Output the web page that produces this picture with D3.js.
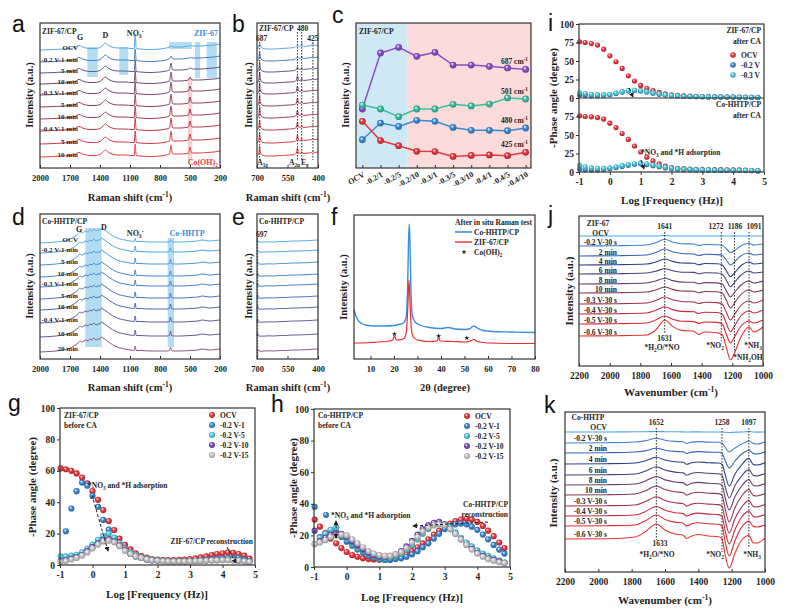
<!DOCTYPE html>
<html>
<head>
<meta charset="utf-8">
<script src="https://cdn.jsdelivr.net/npm/d3@7"></script>
<style>
  body { margin: 0; background: #fff; }
</style>
</head>
<body>
<script>
// ---------- panel a : ZIF-67/CP in situ Raman ----------
var aLabels = ["OCV", "-0.2 V-1 min", "5 min", "10 min", "-0.3 V-1 min", "5 min", "10 min", "-0.4 V-1 min", "5 min", "10 min"];
var aOffsets = [118, 106, 95, 84, 73, 61, 49, 37, 24, 11];
var xsA = [2000, 1900, 1800, 1700, 1650, 1610, 1595, 1570, 1500, 1450, 1400, 1370, 1345, 1320, 1280, 1220, 1150, 1080, 1058, 1048, 1038, 1000, 900, 800, 740, 705, 690, 676, 660, 600, 540, 515, 500, 486, 470, 430, 400, 330, 260, 200];
var baseA = [0, 0.3, 0.8, 1.5, 2.5, 4.5, 4.2, 2.8, 1.5, 1.5, 2.5, 5, 7, 5, 3, 2, 2, 1.5, 1.5, 0, 1.5, 1, 0.5, 1, 2, 3, 0, 3.5, 3, 3, 3.5, 4, 0, 4.5, 4, 4, 4, 4.5, 5, 6];
var aNO3 = [16, 13, 13, 13, 13, 13, 13, 13, 13, 13];
var aP690 = [4, 6, 10, 12, 13, 13, 13, 13, 13, 12];
var aP500 = [4, 4, 5, 7, 9, 10, 10, 10, 10, 10];
var aBlueSpans = [[1527, 1423, 91, 121], [1207, 1117, 93, 121], [710, 483, 119, 126], [450, 400, 90, 126], [333, 233, 90, 126]];
var aPinkSpans = [[523, 477, 8, 90]];
var ramanTicks = [2000, 1700, 1400, 1100, 800, 500, 200];

// ---------- panel b : ZIF-67/CP 700-400 ----------
var xsB = [700, 695, 690, 687, 684, 675, 650, 620, 580, 540, 515, 506, 501, 496, 488, 483, 480, 477, 470, 450, 432, 425, 418, 400];
var baseB = [1, 2, 5, 0, 5, 2, 1, 1, 1.5, 2, 2.5, 4, 0, 4, 3.5, 4, 0, 4, 3.5, 4, 4.5, 0, 4.5, 5];
var bP687 = [6, 10, 11, 12, 12, 12, 12, 11, 11, 11];
var bP501 = [4, 5, 6, 8, 9, 9, 9, 9, 9, 9];
var bP480 = [7, 6, 5.5, 5.5, 5.5, 5.5, 5.5, 5.5, 5.5, 5.5];
var bP425 = [7, 6, 5.5, 5.5, 5.5, 5.5, 5.5, 5.5, 5.5, 5.5];
var shortTicks = [700, 550, 400];

// ---------- panel c : peak intensities ----------
var cCats = ["OCV", "-0.2/1", "-0.2/5", "-0.2/10", "-0.3/1", "-0.3/5", "-0.3/10", "-0.4/1", "-0.4/5", "-0.4/10"];
var c687 = [40.7, 79.3, 83.2, 77.0, 79.8, 71.0, 71.0, 70.1, 69.0, 68.0];
var c501 = [43.4, 40.7, 35.4, 40.7, 40.7, 43.9, 42.8, 44.1, 48.3, 47.6];
var c480 = [19.5, 31.0, 28.7, 32.9, 32.2, 28.0, 26.0, 26.0, 25.7, 27.6];
var c425 = [32.2, 18.9, 15.4, 11.5, 11.3, 8.0, 8.7, 9.0, 8.5, 10.8];
var cNames = ["687", "501", "480", "425"];

// ---------- panel d : Co-HHTP/CP in situ Raman ----------
var dLabels = ["OCV", "-0.2 V-1 min", "5 min", "10 min", "-0.3 V-1 min", "5 min", "10 min", "-0.4 V-1 min", "10 min", "20 min"];
var dOffsets = [116, 106, 94, 82, 72, 60, 49, 36, 22, 7];
var xsD = [2000, 1900, 1800, 1720, 1660, 1620, 1600, 1585, 1560, 1540, 1520, 1500, 1480, 1460, 1440, 1420, 1400, 1385, 1370, 1340, 1300, 1250, 1200, 1150, 1100, 1058, 1048, 1038, 1000, 900, 800, 730, 705, 695, 685, 660, 600, 500, 420, 380, 340, 300, 250, 200];
var baseD = [0, 0.5, 1.5, 3, 6, 9, 11, 10, 11, 12, 11, 13, 12, 14, 12, 13, 13, 15, 14, 12, 9, 6, 4, 3, 2, 1.5, 0, 1.5, 1.5, 1, 1, 1, 1.5, 0, 1.5, 1, 1, 1.5, 2, 3, 2.5, 2, 2.5, 3];
var dNO3 = [5, 7, 7, 7, 7, 7, 7, 7, 7, 6];
var dP697 = [3, 5, 6, 6, 6, 6, 6, 6, 6, 5];
var dBlueSpans = [[1547, 1383, 12, 131], [723, 660, 12, 121]];

// ---------- panel e : Co-HHTP/CP 700-400 ----------
var xsE = [700, 697, 694, 690, 680, 660, 640, 620, 600, 580, 560, 540, 520, 500, 480, 460, 440, 420, 400];
var baseE = [1, 0, 1.5, 1, 0.8, 1, 1.2, 1, 1.3, 1.5, 1.5, 1.8, 2, 2, 2.2, 2.3, 2.5, 2.8, 3];
var eP697 = [3, 3, 3.5, 4, 4, 4.5, 4.5, 4, 4, 3];

// ---------- panel f : XRD ----------
var fHHTP = [[3, 48], [4, 41], [5, 37], [6, 35], [8, 33], [12, 32], [16, 32], [20, 32.5], [22, 33.5], [24, 35], [25.2, 41], [25.8, 71], [26.2, 116], [26.5, 134], [26.8, 116], [27.2, 71], [27.8, 43], [29, 36], [31, 33], [35, 30.5], [40, 29.5], [43, 30.5], [46, 29], [50, 28.5], [52, 29], [54, 32], [55.5, 30], [58, 27.5], [62, 26.5], [70, 26], [80, 25.5]];
var fZIF = [[3, 15], [10, 15.5], [18, 17], [19.5, 18], [20.2, 22], [21, 18], [23, 18.5], [24.5, 20], [25.3, 27], [25.9, 51], [26.4, 78], [26.9, 51], [27.4, 29], [28.2, 21], [30, 18], [35, 16.5], [38.3, 17], [39, 20], [39.7, 17], [45, 16.5], [50, 16], [52, 16.5], [54, 18.5], [55.5, 16.5], [60, 15], [70, 14.5], [80, 14.5]];
var fStars = [[20.2, 24], [39, 22], [51, 20]];
var fTicks = [10, 20, 30, 40, 50, 60, 70, 80];

// ---------- panels g, h : Bode phase before CA ----------
var bodeNames = ["OCV", "-0.2 V-1", "-0.2 V-5", "-0.2 V-10", "-0.2 V-15"];
var logFgh = [-0.98, -0.82, -0.65, -0.49, -0.32, -0.16, 0, 0.17, 0.33, 0.5, 0.67, 0.83, 1, 1.17, 1.33, 1.5, 1.67, 1.83, 2, 2.17, 2.33, 2.5, 2.67, 2.83, 3, 3.17, 3.33, 3.5, 3.67, 3.83, 4, 4.17, 4.33, 4.5, 4.67, 4.83];
var gOCV = [61.5, 61, 60, 58.3, 55.7, 52, 47, 41.5, 35, 28, 22.3, 16.8, 12.8, 10, 7.4, 5.7, 4.7, 3.8, 3.5, 3.3, 3.2, 3.2, 3.3, 3.5, 3.8, 4.2, 4.8, 5.5, 6.3, 7, 7.5, 8, 7.8, 7, 6, 4];
var gV1 = [null, 21.5, 36, 47, 52.5, 50.5, 44, 37, 28.7, 22.5, 17, 13, 9.5, 7, 5.5, 4.5, 3.5, 3, 2.8, 2.6, 2.5, 2.4, 2.4, 2.5, 2.5, 2.7, 3, 3.3, 3.6, 4, 4.2, 4.5, 4.6, 4.5, 3.5, 2.5];
var gV5 = [5.5, 5.5, 6, 6.5, 8, 10.5, 13, 16, 18.5, 20, 17.5, 14, 10.5, 8, 6.5, 5, 4, 3.5, 3, 2.8, 2.6, 2.5, 2.5, 2.5, 2.6, 2.7, 2.9, 3.1, 3.3, 3.4, 3.5, 3.5, 3.4, 3.1, 2.6, 2];
var gV10 = [2.5, 3, 4, 5, 6.5, 9, 11.5, 14, 16, 16.5, 15, 12.5, 9.5, 7, 5.5, 4.5, 3.5, 3, 2.7, 2.5, 2.4, 2.3, 2.3, 2.3, 2.4, 2.5, 2.6, 2.8, 3, 3.1, 3.2, 3.2, 3.1, 2.8, 2.4, 2];
var gV15 = [2, 2.5, 3.5, 4.5, 6, 8, 10.5, 13, 15, 15.5, 14.5, 12, 9, 7, 5.5, 4.5, 3.6, 3, 2.7, 2.5, 2.4, 2.3, 2.3, 2.3, 2.4, 2.5, 2.6, 2.7, 2.9, 3, 3.1, 3.1, 3, 2.8, 2.4, 2];
var hOCV = [30, 25.5, 21.5, 18, 15, 12, 9.5, 7.5, 6.5, 5.5, 5, 4.8, 4.6, 4.6, 5, 5.5, 6.5, 8, 10, 12.5, 15, 17.5, 20.5, 23, 25.5, 27.5, 29, 30, 30.5, 30, 28.5, 26, 23, 19.5, 15.5, 12];
var hV1 = [38, 19, 21, 23, 22, 19, 16, 13.5, 11, 9, 7, 6, 5, 4.5, 4.5, 5, 5.5, 6.5, 8, 10, 12.5, 15, 18, 21, 24, 26, 27, 27.5, 27, 25.5, 23.5, 20.5, 17.5, 14, 11, 8.5];
var hV5 = [14.5, 18.5, 21, 23.5, 25, 20, 17.5, 14.5, 12, 10, 8, 6.5, 5.5, 5.5, 6, 7, 8.5, 11, 14, 17.5, 21, 24, 26.5, 27.5, 27, 25, 22, 18.5, 15.5, 13, 10.5, 8.5, 7, 5.5, 4, 3];
var hV10 = [23, 16.5, 18.5, 20.5, 21.5, 21, 19, 16, 13.5, 11, 9, 7.5, 6.5, 6.5, 7, 8, 10, 13, 16.5, 20.5, 24, 26.5, 28, 28.5, 27, 24, 21, 17.5, 14, 11.5, 9, 7, 5.5, 4.5, 3.5, 2.5];
var hV15 = [14.5, 15.5, 17, 19, 20, 20.5, 20, 17.5, 15, 12.5, 10, 8.5, 7.5, 7, 7, 8, 9.5, 12, 15.5, 19, 22.5, 25, 26.5, 27, 26.5, 24, 21, 17.5, 14, 11, 8.5, 6.5, 5, 4, 3, 2.5];
var logTicks = [-1, 0, 1, 2, 3, 4, 5];

// ---------- panel i : Bode phase after CA ----------
var iNames = ["OCV", "-0.2 V", "-0.3 V"];
var logFi = [-0.98, -0.8, -0.6, -0.4, -0.2, 0, 0.2, 0.4, 0.6, 0.8, 1, 1.2, 1.4, 1.6, 1.8, 2, 2.2, 2.4, 2.6, 2.8, 3, 3.2, 3.4, 3.6, 3.8, 4, 4.2, 4.4, 4.6, 4.8];
var iUpOCV = [76, 75, 73.5, 71.5, 66, 57, 49, 40, 30, 23, 17, 13, 10, 7.5, 5.5, 4.3, 3.5, 3, 2.5, 2.2, 2, 1.8, 1.6, 1.4, 1.3, 1.2, 1.1, 1, 0.9, 0.8];
var iUpV2 = [4, 3.5, 3, 3, 3.5, 4.5, 6, 8, 9.5, 10, 9.5, 8, 6.5, 5, 4, 3.2, 2.7, 2.3, 2, 1.8, 1.6, 1.5, 1.4, 1.3, 1.2, 1.1, 1, 0.9, 0.8, 0.7];
var iUpV3 = [7, 6, 5, 4.5, 4.5, 5, 6.5, 8.5, 10, 10.5, 10, 8.5, 7, 5.5, 4.5, 3.5, 3, 2.5, 2.2, 2, 1.8, 1.7, 1.6, 1.5, 1.4, 1.3, 1.2, 1.1, 1, 0.9];
var iLoOCV = [76, 75, 74.5, 73.5, 71.5, 66, 60, 52, 44, 35, 27, 20, 15, 11, 8, 6, 5, 4.5, 4, 3.7, 3.5, 3.3, 3.2, 3.1, 3, 3, 2.8, 2.5, 2, 1.5];
var iLoV2 = [4, 3, 3, 3, 3.5, 4.5, 6, 7.5, 9, 10.5, 11, 10, 8.5, 7, 5.5, 4.5, 3.8, 3.3, 3, 2.8, 2.6, 2.5, 2.4, 2.3, 2.2, 2.1, 2, 1.9, 1.7, 1.5];
var iLoV3 = [9, 7, 5.5, 5, 5, 5.5, 7, 8.5, 10, 11.5, 12, 11, 9.5, 8, 6.5, 5.5, 4.5, 4, 3.5, 3.2, 3, 2.9, 2.8, 2.7, 2.6, 2.5, 2.4, 2.2, 2, 1.8];

// ---------- panels j, k : in situ ATR-IR ----------
var irLabels = ["OCV", "-0.2 V-30 s", "2 min", "4 min", "6 min", "8 min", "10 min", "-0.3 V-30 s", "-0.4 V-30 s", "-0.5 V-30 s", "-0.6 V-30 s"];
var xsJ = [2200, 1950, 1760, 1700, 1641, 1590, 1530, 1450, 1420, 1380, 1300, 1265, 1240, 1212, 1186, 1150, 1091, 1060, 1000];
var jRows = [
  [130, 130, 130, 130, 130.5, 130, 130, 130, 130, 130, 130, 130, 130, 130, 130, 130, 130, 130, 130],
  [120, 120.3, 121, 123.3, 126.7, 124, 122.3, 122, 120.5, 121.5, 121.2, 120.5, 117.5, 113.3, 115.5, 119.5, 122.7, 121, 122],
  [110, 110.3, 111, 113.5, 117, 114.2, 112.5, 112, 110.5, 111.7, 111.4, 110.5, 106, 101, 104, 109.5, 113, 111, 112],
  [101, 101.3, 102, 104, 107, 104.6, 103, 102.8, 101.3, 102.5, 102.2, 101, 95.5, 89.3, 93, 99.5, 104, 102, 103],
  [92, 92.3, 93, 94.7, 97.3, 95.2, 93.8, 93.6, 92.2, 93.3, 93, 91.8, 86, 79.3, 83.5, 90, 95, 93, 94],
  [82, 82.3, 83, 85, 87.7, 85.4, 83.9, 83.7, 82.2, 83.4, 83.1, 81.8, 75.5, 69, 73.5, 80, 85, 83, 85],
  [73, 73.3, 74, 76, 79, 76.6, 75, 74.8, 73.3, 74.5, 74.2, 72.8, 66, 58, 63, 70.5, 76, 74, 76],
  [62, 62.3, 63, 65.5, 69, 66.2, 64.5, 64, 62.5, 63.7, 63.4, 61.8, 54, 46, 51.5, 59.5, 65, 63, 66],
  [52, 52.3, 53, 55.6, 59.3, 56.4, 54.6, 54.2, 52.5, 53.8, 53.5, 51.8, 43, 34.3, 40, 49, 55, 53, 56],
  [42, 42.3, 43, 46, 50, 46.8, 44.8, 44.4, 42.6, 44, 43.6, 41.8, 32, 23, 29, 38.5, 45, 43, 46],
  [30, 30.3, 31, 36, 46, 39.6, 35.6, 34.8, 31.5, 34, 33.2, 31, 19, 6, 13, 27, 39, 34, 39]
];
var xsK = [2200, 1950, 1780, 1720, 1652, 1600, 1540, 1490, 1470, 1440, 1400, 1340, 1280, 1258, 1240, 1215, 1180, 1140, 1110, 1097, 1070, 1050, 1000];
var kRows = [
  [142, 142, 142.2, 142.3, 142.5, 142.3, 142.2, 142.1, 142, 142.1, 142.1, 142, 142, 142, 141.8, 141.5, 141.8, 142, 142.2, 142.5, 142, 141.9, 142],
  [131, 131.3, 132, 133.1, 135.7, 133.8, 132.6, 132.2, 130.5, 131.9, 132.4, 131.9, 131.7, 130.7, 127, 122, 126, 130, 132.3, 133.3, 130.5, 130, 132],
  [121, 121.3, 122, 123.1, 125.7, 123.8, 122.6, 122.2, 120.5, 121.9, 122.4, 121.9, 121.7, 120.7, 114, 106, 113, 120, 123, 124, 120.5, 120, 122.3],
  [110, 110.3, 111, 113, 116.7, 114, 112.3, 111.7, 109.7, 111.3, 112, 111.3, 111, 109.8, 100, 88, 100, 109, 114.7, 115.7, 109.5, 109, 111.3],
  [99, 99.3, 100, 102.7, 107.3, 104, 101.9, 101.1, 98.8, 100.7, 101.5, 100.7, 100.2, 98.9, 88, 76, 88.5, 98, 103.5, 104.5, 98.5, 98, 100.5],
  [89, 89.3, 90, 92.8, 97.5, 94.1, 92, 91.1, 88.9, 90.7, 91.6, 90.7, 90.3, 88.9, 77, 64, 77.5, 88, 93.5, 94.5, 88.5, 88, 90.5],
  [79, 79.3, 80, 83, 88, 84.4, 82.2, 81.3, 78.9, 80.8, 81.7, 80.8, 80.4, 78.9, 66, 52, 66.5, 78, 83.5, 84.5, 78.5, 78, 80.5],
  [68, 68.3, 69, 72.2, 77.3, 73.6, 71.3, 70.3, 67.9, 69.9, 70.8, 69.9, 69.4, 67.9, 55, 41, 55.5, 67, 72.5, 73.5, 67.5, 67, 69.5],
  [58, 58.3, 59, 62.3, 67.5, 63.7, 61.3, 60.4, 57.9, 59.9, 60.9, 59.9, 59.4, 57.9, 44, 30, 44.5, 57, 62, 63, 57.5, 57, 59.5],
  [48, 48.3, 49, 53, 59, 54.6, 51.9, 50.8, 48.1, 50.2, 51.3, 50.2, 49.7, 48, 33, 18, 33.5, 47, 52, 53, 47.5, 47, 49],
  [35, 35.3, 37, 42, 50, 44, 40, 38.8, 35.5, 38, 39.5, 38, 37.3, 35.3, 20, 6, 21, 34, 38, 39, 31, 31, 36]
];
var irTicks = [2200, 2000, 1800, 1600, 1400, 1200, 1000];

// ---------- drawing ----------
var SERIF = "'Liberation Serif','Times New Roman',serif";
var INK = "#1e1e1e";
var svg = d3.select("body").append("svg")
    .attr("width", 799).attr("height", 614)
    .style("display", "block");
var defs = svg.append("defs");

defs.append("marker").attr("id", "arr")
    .attr("viewBox", "0 0 6 6").attr("refX", 5).attr("refY", 3)
    .attr("markerWidth", 5).attr("markerHeight", 5)
    .attr("markerUnits", "userSpaceOnUse").attr("orient", "auto")
    .append("path").attr("d", "M0,0L6,3L0,6Z").attr("fill", INK);

var aColors = ["#5aa8e4", "#4a7cc4", "#5d5a86", "#6e4a72", "#7f456a", "#91415f", "#a63d55", "#bd3a4c", "#d33a44", "#e8403f"];
var dColors = ["#58b0ea", "#4ea3e2", "#4896da", "#448ad2", "#4880ca", "#4c74be", "#5068b2", "#5a5ea2", "#6a5a92", "#8a5c80"];
var irColors = ["#4aa6ea", "#3f82d2", "#3a64b8", "#2f3f8c", "#4a3f7c", "#6a3d6c", "#8a385c", "#a8324c", "#c42c3e", "#dc2a34", "#f0302e"];
var cColors = ["#8a4ec8", "#3cbf9f", "#3a8ad6", "#e8363c"];
var bodeColors = ["#e8363c", "#3a86d0", "#4cc9dc", "#7a4cc0", "#c8c8c8"];

// text with sub / superscript pieces
function rich(x, y, segs, o) {
    o = o || {};
    var fs = o.size || 7.5;
    var t = svg.append("text").attr("x", x).attr("y", y)
        .attr("font-family", SERIF).attr("font-weight", "bold")
        .attr("font-size", fs).attr("fill", o.fill || INK)
        .attr("text-anchor", o.anchor || "start");
    if (o.rotate) t.attr("transform", "rotate(" + o.rotate + "," + x + "," + y + ")");
    var shift = 0;
    segs.forEach(function (s) {
        var str = typeof s === "string" ? s : s[0];
        var kind = typeof s === "string" ? "" : s[1];
        var target = kind === "sub" ? fs * 0.3 : kind === "sup" ? -fs * 0.4 : 0;
        t.append("tspan").attr("dy", target - shift)
            .attr("font-size", kind ? fs * 0.7 : fs).text(str);
        shift = target;
    });
    return t;
}

function letter(x, y, s) {
    svg.append("text").attr("x", x).attr("y", y).text(s)
        .attr("font-family", "'Liberation Sans',Arial,sans-serif")
        .attr("font-size", 23).attr("fill", "#111");
}

function frame(x0, x1, y0, y1) {
    svg.append("rect").attr("x", x0).attr("y", y0)
        .attr("width", x1 - x0).attr("height", y1 - y0)
        .attr("fill", "none").attr("stroke", "#333").attr("stroke-width", 1.2);
}

function xAxis(scale, y, ticks, inward, fs) {
    var g = svg.append("g").attr("transform", "translate(0," + y + ")")
        .call(d3.axisBottom(scale).tickValues(ticks)
            .tickSize(inward ? -3 : 3).tickPadding(inward ? 6.5 : 3.5)
            .tickFormat(function (d) { return String(d); }));
    g.select(".domain").remove();
    g.selectAll("line").attr("stroke", "#333");
    g.selectAll("text").attr("font-family", SERIF).attr("font-weight", "bold")
        .attr("font-size", fs || 8.5).attr("fill", INK);
}

function yAxis(scale, x, ticks) {
    var g = svg.append("g").attr("transform", "translate(" + x + ",0)")
        .call(d3.axisLeft(scale).tickValues(ticks).tickSize(3).tickPadding(2)
            .tickFormat(function (d) { return String(d); }));
    g.select(".domain").remove();
    g.selectAll("line").attr("stroke", "#333");
    g.selectAll("text").attr("font-family", SERIF).attr("font-weight", "bold")
        .attr("font-size", 9.5).attr("fill", INK);
}

function spectrum(pts, xs, ys, color, w) {
    svg.append("path").datum(pts)
        .attr("fill", "none").attr("stroke", color).attr("stroke-width", w || 1)
        .attr("stroke-linejoin", "round")
        .attr("d", d3.line().x(function (d) { return xs(d[0]); })
            .y(function (d) { return ys(d[1]); }).curve(d3.curveMonotoneX));
}

function grad(color) {
    var id = "ball" + color.slice(1);
    if (defs.select("#" + id).empty()) {
        var gr = defs.append("radialGradient").attr("id", id)
            .attr("cx", "50%").attr("cy", "50%").attr("r", "55%")
            .attr("fx", "35%").attr("fy", "30%");
        gr.append("stop").attr("offset", "0%").attr("stop-color", "#ffffff");
        gr.append("stop").attr("offset", "45%").attr("stop-color", color);
        gr.append("stop").attr("offset", "100%").attr("stop-color", d3.color(color).darker(0.9).formatHex());
    }
    return "url(#" + id + ")";
}

function balls(xv, yv, xs, ys, color, r) {
    var data = xv.map(function (x, i) { return [x, yv[i]]; })
        .filter(function (d) { return d[1] != null; });
    svg.append("g").selectAll("circle").data(data).join("circle")
        .attr("cx", function (d) { return xs(d[0]); })
        .attr("cy", function (d) { return ys(d[1]); })
        .attr("r", r).attr("fill", grad(color));
}

function ball(x, y, color, r) {
    svg.append("circle").attr("cx", x).attr("cy", y).attr("r", r).attr("fill", grad(color));
}

function vdot(x, y0, y1) {
    svg.append("line").attr("x1", x).attr("x2", x).attr("y1", y0).attr("y2", y1)
        .attr("stroke", INK).attr("stroke-width", 0.9).attr("stroke-dasharray", "1.6,1.4");
}

function arrow(x1, y1, x2, y2, dashed) {
    svg.append("line").attr("x1", x1).attr("y1", y1).attr("x2", x2).attr("y2", y2)
        .attr("stroke", INK).attr("stroke-width", 1)
        .attr("stroke-dasharray", dashed ? "3,2" : null)
        .attr("marker-end", "url(#arr)");
}

function spans(list, xs, ys, fill, op) {
    list.forEach(function (s) {
        svg.append("rect")
            .attr("x", Math.min(xs(s[0]), xs(s[1]))).attr("width", Math.abs(xs(s[1]) - xs(s[0])))
            .attr("y", ys(s[3])).attr("height", ys(s[2]) - ys(s[3]))
            .attr("fill", fill).attr("opacity", op);
    });
}

// build a stacked trace: base shape with the named peak knots replaced
function trace(xsList, base, off, peaks) {
    return xsList.map(function (x, j) {
        var v = peaks.hasOwnProperty(x) ? peaks[x] : base[j];
        return [x, off + v];
    });
}

function starMark(x, y) {
    svg.append("path").attr("transform", "translate(" + x + "," + y + ")")
        .attr("d", d3.symbol(d3.symbolStar, 9)).attr("fill", INK);
}

var ramanTitle = ["Raman shift (cm", ["-1", "sup"], ")"];

// ===== a =====
var xa = d3.scaleLinear().domain([2000, 200]).range([40, 220]);
var ya = d3.scaleLinear().domain([0, 145]).range([168, 23]);
spans(aBlueSpans, xa, ya, "#9fd3ef", 0.8);
spans(aPinkSpans, xa, ya, "#f4b3b6", 0.6);
aOffsets.forEach(function (off, i) {
    var pk = {}; pk[1048] = aNO3[i]; pk[690] = aP690[i]; pk[500] = aP500[i];
    spectrum(trace(xsA, baseA, off, pk), xa, ya, aColors[i]);
});
aOffsets.forEach(function (off, i) {
    rich(78, ya(off), [aLabels[i]], { anchor: "end", size: 7 });
});
rich(42, 34, ["ZIF-67/CP"]);
rich(xa(1600), 40, ["G"], { anchor: "middle", size: 8 });
rich(xa(1345), 38, ["D"], { anchor: "middle", size: 8 });
rich(xa(1048), 36, ["NO", ["3", "sub"], ["-", "sup"]], { anchor: "middle", size: 8 });
rich(218, 36, ["ZIF-67"], { anchor: "end", size: 8, fill: "#3a8fd8" });
rich(218, 165, ["Co(OH)", ["2", "sub"]], { anchor: "end", size: 8, fill: "#e8363c" });
frame(40, 220, 23, 168);
xAxis(xa, 168, ramanTicks, true);
rich(130, 201, ramanTitle, { anchor: "middle", size: 10.5 });
rich(33, 95, ["Intensity (a.u.)"], { anchor: "middle", size: 10.5, rotate: -90 });
letter(12, 32, "a");

// ===== b =====
var xb = d3.scaleLinear().domain([700, 400]).range([257, 318]);
var yb = d3.scaleLinear().domain([0, 145]).range([168, 23]);
aOffsets.forEach(function (off, i) {
    var pk = {}; pk[687] = bP687[i]; pk[501] = bP501[i]; pk[480] = bP480[i]; pk[425] = bP425[i];
    spectrum(trace(xsB, baseB, off, pk), xb, yb, aColors[i]);
});
vdot(xb(687), 42, 160);
vdot(xb(501), 32, 160);
vdot(xb(480), 32, 160);
vdot(xb(425), 42, 160);
rich(259, 31, ["ZIF-67/CP"], { size: 7.5 });
rich(xb(687) + 2, 41, ["687"], { anchor: "middle", size: 7.5 });
rich(xb(480) + 1, 31, ["480"], { anchor: "middle", size: 7.5 });
rich(xb(425), 41, ["425"], { anchor: "middle", size: 7.5 });
rich(xb(687) + 3, 165, ["A", ["1g", "sub"]], { anchor: "middle", size: 7.5 });
rich(xb(501) - 3, 165, ["A", ["2u", "sub"]], { anchor: "middle", size: 7.5 });
rich(xb(480) + 3, 165, ["E", ["g", "sub"]], { anchor: "middle", size: 7.5 });
frame(257, 318, 23, 168);
xAxis(xb, 168, shortTicks, true);
rich(288, 201, ramanTitle, { anchor: "middle", size: 10.5 });
rich(252, 95, ["Intensity (a.u.)"], { anchor: "middle", size: 10.5, rotate: -90 });
letter(232, 32, "b");

// ===== c =====
var xc = d3.scalePoint().domain(cCats).range([356, 532]).padding(0.35);
var yc = d3.scaleLinear().domain([0, 100]).range([168, 23]);
var cSplit = (xc(cCats[2]) + xc(cCats[3])) / 2;
svg.append("rect").attr("x", 356).attr("y", 23).attr("width", cSplit - 356).attr("height", 145).attr("fill", "#cfe9f4");
svg.append("rect").attr("x", cSplit).attr("y", 23).attr("width", 531 - cSplit).attr("height", 145).attr("fill", "#fbdcda");
[c687, c501, c480, c425].forEach(function (series, k) {
    var pts = cCats.map(function (c, i) { return [c, series[i]]; });
    svg.append("path").datum(pts).attr("fill", "none").attr("stroke", cColors[k]).attr("stroke-width", 1.5)
        .attr("d", d3.line().x(function (d) { return xc(d[0]); }).y(function (d) { return yc(d[1]); }));
    svg.append("g").selectAll("circle").data(pts).join("circle")
        .attr("cx", function (d) { return xc(d[0]); }).attr("cy", function (d) { return yc(d[1]); })
        .attr("r", 3.4).attr("fill", grad(cColors[k]));
    rich(528, yc(series[series.length - 1]) - 5, [cNames[k] + " cm", ["-1", "sup"]], { anchor: "end", size: 7.5 });
});
rich(359, 34, ["ZIF-67/CP"], { size: 7.5 });
frame(356, 531, 23, 168);
var cx = svg.append("g").attr("transform", "translate(0,168)")
    .call(d3.axisBottom(xc).tickSize(-3).tickFormat(""));
cx.select(".domain").remove();
cx.selectAll("line").attr("stroke", "#333");
cCats.forEach(function (c) {
    rich(xc(c) + 3, 176, [c], { anchor: "end", size: 8, rotate: -30 });
});
rich(349, 95, ["Intensity (a.u.)"], { anchor: "middle", size: 10.5, rotate: -90 });
letter(332, 23, "c");

// ===== d =====
var xd = d3.scaleLinear().domain([2000, 200]).range([40, 220]);
var yd = d3.scaleLinear().domain([0, 145]).range([359, 214]);
spans(dBlueSpans, xd, yd, "#9fd3ef", 0.8);
dOffsets.forEach(function (off, i) {
    var pk = {}; pk[1048] = dNO3[i]; pk[695] = dP697[i];
    spectrum(trace(xsD, baseD, off, pk), xd, yd, dColors[i]);
});
dOffsets.forEach(function (off, i) {
    rich(78, yd(off) - 1, [dLabels[i]], { anchor: "end", size: 7 });
});
rich(42, 224, ["Co-HHTP/CP"]);
rich(xd(1610), 232, ["G"], { anchor: "middle", size: 8 });
rich(xd(1360), 230, ["D"], { anchor: "middle", size: 8 });
rich(xd(1048), 236, ["NO", ["3", "sub"], ["-", "sup"]], { anchor: "middle", size: 8 });
rich(187, 236, ["Co-HHTP"], { anchor: "middle", size: 8, fill: "#3a8fd8" });
frame(40, 220, 214, 359);
xAxis(xd, 359, ramanTicks, true);
rich(130, 391, ramanTitle, { anchor: "middle", size: 10.5 });
rich(33, 286, ["Intensity (a.u.)"], { anchor: "middle", size: 10.5, rotate: -90 });
letter(12, 225, "d");

// ===== e =====
var xe = d3.scaleLinear().domain([700, 400]).range([257, 318]);
var ye = d3.scaleLinear().domain([0, 145]).range([359, 214]);
dOffsets.forEach(function (off, i) {
    var pk = {}; pk[697] = eP697[i];
    spectrum(trace(xsE, baseE, off, pk), xe, ye, dColors[i]);
});
vdot(xe(697), 238, 357);
rich(259, 224, ["Co-HHTP/CP"], { size: 7.5 });
rich(xe(697) + 4, 237, ["697"], { anchor: "middle", size: 7.5 });
frame(257, 318, 214, 359);
xAxis(xe, 359, shortTicks, true);
rich(288, 391, ramanTitle, { anchor: "middle", size: 10.5 });
rich(252, 286, ["Intensity (a.u.)"], { anchor: "middle", size: 10.5, rotate: -90 });
letter(232, 225, "e");

// ===== f =====
var xf = d3.scaleLinear().domain([3, 80]).range([354, 535]);
var yf = d3.scaleLinear().domain([-1, 143]).range([359, 215]);
spectrum(fHHTP, xf, yf, "#3a8ee0", 1.4);
spectrum(fZIF, xf, yf, "#ee2a2a", 1.2);
fStars.forEach(function (d) { starMark(xf(d[0]), yf(d[1])); });
rich(532, 225, ["After in situ Raman test"], { anchor: "end", size: 7.5 });
svg.append("line").attr("x1", 455).attr("x2", 472).attr("y1", 232).attr("y2", 232).attr("stroke", "#3a8ee0").attr("stroke-width", 1.6);
svg.append("line").attr("x1", 455).attr("x2", 472).attr("y1", 242).attr("y2", 242).attr("stroke", "#ee2a2a").attr("stroke-width", 1.4);
rich(474, 235, ["Co-HHTP/CP"], { size: 7.5 });
rich(474, 245, ["ZIF-67/CP"], { size: 7.5 });
starMark(464, 252);
rich(474, 255, ["Co(OH)", ["2", "sub"]], { size: 7.5 });
frame(354, 535, 215, 359);
xAxis(xf, 359, fTicks, true);
rich(445, 391, ["2\u03b8 (degree)"], { anchor: "middle", size: 10.5 });
rich(347, 287, ["Intensity (a.u.)"], { anchor: "middle", size: 10.5, rotate: -90 });
letter(331, 225, "f");

// ===== g =====
function bodeLegend(x, y0) {
    bodeNames.forEach(function (n, i) {
        ball(x, y0 + i * 10, bodeColors[i], 3);
        rich(x + 8, y0 + i * 10 + 3, [n], { size: 7.5 });
    });
}
var xg = d3.scaleLinear().domain([-1, 5]).range([60, 255]);
var yg = d3.scaleLinear().domain([0, 100]).range([565, 408]);
[gOCV, gV1, gV5, gV10, gV15].forEach(function (s, k) { balls(logFgh, s, xg, yg, bodeColors[k], 3.1); });
bodeLegend(212, 415);
rich(64, 418, ["ZIF-67/CP"], { size: 7.5 });
rich(64, 428, ["before CA"], { size: 7.5 });
rich(88, 488, ["*NO", ["3", "sub"], " and *H adsorption"], { size: 7.5 });
arrow(92, 495, 108, 551, true);
rich(253, 544, ["ZIF-67/CP reconstruction"], { anchor: "end", size: 7.5 });
arrow(227, 547, 236, 563, true);
frame(60, 255, 408, 565);
xAxis(xg, 565, logTicks, false, 9.5);
yAxis(yg, 60, [0, 20, 40, 60, 80, 100]);
rich(157, 598, ["Log [Frequency (Hz)]"], { anchor: "middle", size: 11 });
rich(36, 487, ["-Phase angle (degree)"], { anchor: "middle", size: 11, rotate: -90 });
letter(8, 411, "g");

// ===== h =====
var xh = d3.scaleLinear().domain([-1, 5]).range([314, 510]);
var yh = d3.scaleLinear().domain([0, 100]).range([567, 409]);
[hOCV, hV1, hV5, hV10, hV15].forEach(function (s, k) { balls(logFgh, s, xh, yh, bodeColors[k], 3.1); });
bodeLegend(467, 416);
rich(318, 418, ["Co-HHTP/CP"], { size: 7.5 });
rich(318, 428, ["before CA"], { size: 7.5 });
ball(326, 515, bodeColors[1], 3);
rich(331, 518, ["*NO", ["3", "sub"], " and *H adsorption"], { size: 7.5 });
arrow(336, 528, 336, 521, false);
arrow(336, 531, 336, 538, false);
rich(508, 507, ["Co-HHTP/CP"], { anchor: "end", size: 7.5 });
rich(508, 517, ["reconstruction"], { anchor: "end", size: 7.5 });
arrow(488, 522, 413, 526, true);
frame(314, 510, 409, 567);
xAxis(xh, 567, logTicks, false, 9.5);
yAxis(yh, 314, [0, 20, 40, 60, 80, 100]);
rich(412, 601, ["Log [Frequency (Hz)]"], { anchor: "middle", size: 11 });
rich(297, 488, ["-Phase angle (degree)"], { anchor: "middle", size: 11, rotate: -90 });
letter(271, 412, "h");

// ===== i =====
var xi = d3.scaleLinear().domain([-1, 5]).range([579, 764]);
var yiU = d3.scaleLinear().domain([0, 100]).range([98, 24]);
var yiL = d3.scaleLinear().domain([0, 100]).range([172, 98]);
var iColors = [bodeColors[0], bodeColors[1], bodeColors[2]];
[iUpOCV, iUpV2, iUpV3].forEach(function (s, k) { balls(logFi, s, xi, yiU, iColors[k], 2.6); });
[iLoOCV, iLoV2, iLoV3].forEach(function (s, k) { balls(logFi, s, xi, yiL, iColors[k], 2.6); });
iNames.forEach(function (n, i) {
    ball(733, 55 + i * 10, iColors[i], 2.8);
    rich(741, 58 + i * 10, [n], { size: 7.5 });
});
rich(761, 33, ["ZIF-67/CP"], { anchor: "end", size: 7.5 });
rich(761, 44, ["after CA"], { anchor: "end", size: 7.5 });
rich(761, 107, ["Co-HHTP/CP"], { anchor: "end", size: 7.5 });
rich(761, 118, ["after CA"], { anchor: "end", size: 7.5 });
rich(641, 155, ["*NO", ["3", "sub"], " and *H adsorption"], { size: 7.5 });
arrow(629, 88, 633, 97, true);
arrow(641, 160, 644, 169, true);
frame(579, 764, 24, 172);
svg.append("line").attr("x1", 579).attr("x2", 764).attr("y1", 98).attr("y2", 98).attr("stroke", "#333").attr("stroke-width", 1.2);
xAxis(xi, 172, logTicks, false, 9.5);
yAxis(yiU, 579, [0, 25, 50, 75, 100]);
yAxis(yiL, 579, [0, 25, 50, 75]);
rich(672, 204, ["Log [Frequency (Hz)]"], { anchor: "middle", size: 11 });
rich(557, 98, ["-Phase angle (degree)"], { anchor: "middle", size: 11, rotate: -90 });
letter(548, 31, "i");

// ===== j =====
var xj = d3.scaleLinear().domain([2200, 1000]).range([579, 763]);
var yj = d3.scaleLinear().domain([0, 150]).range([366, 216]);
jRows.forEach(function (row, i) {
    spectrum(xsJ.map(function (x, j) { return [x, row[j]]; }), xj, yj, irColors[i], 1.1);
});
jRows.forEach(function (row, i) {
    rich(i === 0 ? 609 : 617, yj(row[0]) - (i === 0 ? 0 : 1), [irLabels[i]], { anchor: "end", size: 7.5 });
});
rich(598, 226, ["ZIF-67"], { anchor: "middle", size: 7.5 });
vdot(xj(1641), 232, 334);
vdot(xj(1272), 232, 341);
vdot(xj(1186), 232, 351);
vdot(xj(1091), 232, 340);
rich(xj(1641), 229, ["1641"], { anchor: "middle", size: 7.5 });
rich(716, 229, ["1272"], { anchor: "middle", size: 7.5 });
rich(735, 229, ["1186"], { anchor: "middle", size: 7.5 });
rich(754, 229, ["1091"], { anchor: "middle", size: 7.5 });
rich(xj(1641), 341, ["1631"], { anchor: "middle", size: 7.5 });
rich(662, 350, ["*H", ["2", "sub"], "O/*NO"], { anchor: "middle", size: 7.5 });
rich(715, 348, ["*NO", ["2", "sub"]], { anchor: "middle", size: 7.5 });
rich(753, 348, ["*NH", ["3", "sub"]], { anchor: "middle", size: 7.5 });
rich(748, 360, ["*NH", ["2", "sub"], "OH"], { anchor: "middle", size: 7.5 });
frame(579, 763, 216, 366);
xAxis(xj, 366, irTicks, true, 9.5);
rich(671, 396, ["Wavenumber (cm", ["-1", "sup"], ")"], { anchor: "middle", size: 11 });
rich(573, 291, ["Intensity (a.u.)"], { anchor: "middle", size: 11, rotate: -90 });
letter(548, 223, "j");

// ===== k =====
var xk = d3.scaleLinear().domain([2200, 1000]).range([565, 765]);
var yk = d3.scaleLinear().domain([2, 162]).range([572, 412]);
kRows.forEach(function (row, i) {
    spectrum(xsK.map(function (x, j) { return [x, row[j]]; }), xk, yk, irColors[i], 1.1);
});
kRows.forEach(function (row, i) {
    rich(607, yk(row[0]) - 2, [irLabels[i]], { anchor: "end", size: 7.5 });
});
rich(588, 420, ["Co-HHTP"], { anchor: "middle", size: 7.5 });
vdot(xk(1652), 428, 540);
vdot(xk(1258), 428, 552);
vdot(xk(1097), 428, 548);
rich(xk(1652), 425, ["1652"], { anchor: "middle", size: 7.5 });
rich(xk(1258), 425, ["1258"], { anchor: "middle", size: 7.5 });
rich(xk(1097), 425, ["1097"], { anchor: "middle", size: 7.5 });
rich(660, 546, ["1633"], { anchor: "middle", size: 7.5 });
rich(657, 557, ["*H", ["2", "sub"], "O/*NO"], { anchor: "middle", size: 7.5 });
rich(715, 557, ["*NO", ["2", "sub"]], { anchor: "middle", size: 7.5 });
rich(752, 557, ["*NH", ["3", "sub"]], { anchor: "middle", size: 7.5 });
frame(565, 765, 412, 572);
xAxis(xk, 572, irTicks, true, 9.5);
rich(665, 604, ["Wavenumber (cm", ["-1", "sup"], ")"], { anchor: "middle", size: 11 });
rich(557, 493, ["Intensity (a.u.)"], { anchor: "middle", size: 11, rotate: -90 });
letter(544, 413, "k");
</script>
</body>
</html>
